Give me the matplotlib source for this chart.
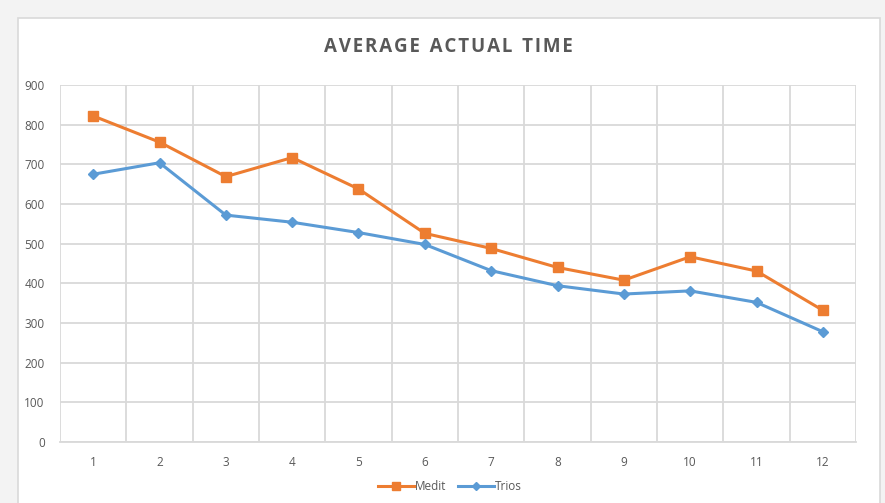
import matplotlib.pyplot as plt
from matplotlib.patches import Rectangle
from matplotlib.ticker import FixedLocator, MultipleLocator

plt.rcParams["font.family"] = ["Open Sans", "DejaVu Sans"]

CATEGORIES = ["1", "2", "3", "4", "5", "6", "7", "8", "9", "10", "11", "12"]
MEDIT = [822, 756, 669, 717, 638, 526, 488, 440, 408, 467, 431, 332]
TRIOS = [675, 704, 572, 554, 528, 498, 432, 394, 373, 381, 352, 278]
TITLE = "AVERAGE ACTUAL TIME"

ORANGE = "#ed7d31"
BLUE = "#5b9bd5"
GRID = "#d9d9d9"
TEXT = "#595959"


def spaced(text, gap="\u200a"):
    # rough letter tracking like the office chart title
    return "  ".join(gap.join(word) for word in text.split(" "))


def main():
    fig = plt.figure(figsize=(8.85, 5.03), dpi=100, facecolor="#f3f3f3")

    # white chart box with thin border
    fig.patches.append(Rectangle((18 / 885, -0.05), 862 / 885, 1 - 18 / 503 + 0.05,
                                 transform=fig.transFigure, facecolor="white",
                                 edgecolor="#d9d9d9", linewidth=1.2, zorder=-1))

    ax = fig.add_axes([60 / 885, 1 - 442 / 503, 796 / 885, 357 / 503])
    ax.set_zorder(2)
    ax.set_facecolor("white")

    x = list(range(1, len(CATEGORIES) + 1))
    ax.plot(x, MEDIT, color=ORANGE, linewidth=2.2, marker="s", markersize=6.5,
            label="Medit", zorder=3)
    ax.plot(x, TRIOS, color=BLUE, linewidth=2.2, marker="D", markersize=5.5,
            label="Trios", zorder=3)

    ax.set_xlim(0.5, len(CATEGORIES) + 0.5)
    ax.set_ylim(0, 900)
    ax.yaxis.set_major_locator(MultipleLocator(100))
    ax.set_xticks(x)
    ax.set_xticklabels(CATEGORIES)
    ax.xaxis.set_minor_locator(FixedLocator([i + 0.5 for i in range(0, len(CATEGORIES) + 1)]))

    ax.grid(axis="y", which="major", color=GRID, linewidth=1.3)
    ax.grid(axis="x", which="minor", color=GRID, linewidth=1.3)
    ax.set_axisbelow(True)

    for side in ["top", "right", "left"]:
        ax.spines[side].set_visible(False)
    ax.spines["bottom"].set_color(GRID)
    ax.spines["bottom"].set_linewidth(1.3)

    ax.tick_params(which="both", length=0)
    ax.tick_params(axis="x", pad=10, labelsize=8.5, colors=TEXT)
    ax.tick_params(axis="y", pad=11, labelsize=8.5, colors=TEXT)

    fig.text(448 / 885, 1 - 47 / 503, spaced(TITLE), ha="center", va="center",
             fontsize=13.5, fontweight="bold", color=TEXT)

    fig.legend(loc="center", bbox_to_anchor=(450 / 885, 1 - 487 / 503), ncol=2,
               frameon=False, fontsize=8.5, labelcolor=TEXT, handlelength=3,
               handletextpad=0.1, columnspacing=1.0, markerscale=0.8)

    fig.savefig("out.png", dpi=100, facecolor=fig.get_facecolor())


if __name__ == "__main__":
    main()
